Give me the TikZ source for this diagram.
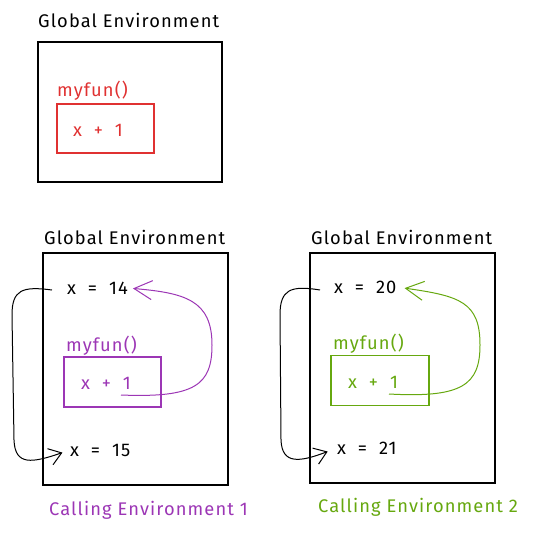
\documentclass[tikz,border=0pt]{standalone}
\usepackage{fontspec}
\setmainfont{Fira Sans}[LetterSpace=6]
\usetikzlibrary{arrows.meta}
\definecolor{exred}{HTML}{E03131}
\definecolor{expurple}{HTML}{9C36B5}
\definecolor{exgreen}{HTML}{66A80F}
\tikzset{
  lbl/.style={font=\fontsize{18.3}{20}\selectfont, inner sep=0pt},
  gbox/.style={draw=black, line width=1.2pt, inner sep=0pt},
  fbox/.style={draw=#1, line width=1.1pt, inner sep=0pt},
  conn/.style={line width=1pt, -{Straight Barb[length=12pt,width=17pt,line width=1pt]}},
  bigconn/.style={line width=1pt, -{Straight Barb[length=18pt,width=19pt,line width=1pt]}},
}
\begin{document}
\begin{tikzpicture}[x=1pt,y=-1pt]
\useasboundingbox (0,0) rectangle (534,532);
% ---------- top panel ----------
\node[lbl, anchor=west] (t0) at (38,20) {Global Environment};
\node[gbox, minimum width=184pt, minimum height=140pt] (g0) at (130,112) {};
\node[lbl, anchor=west, text=exred] (f0) at (57,91) {myfun()};
\node[fbox=exred, minimum width=97pt, minimum height=49pt] (b0) at (105.5,128.5) {};
\node[lbl, anchor=west, text=exred] (e0) at (73,130) {x \ + \ 1};
% ---------- bottom left ----------
\node[lbl, anchor=west] (t1) at (44,237) {Global Environment};
\node[gbox, minimum width=185pt, minimum height=232pt] (g1) at (135.5,369) {};
\node[lbl, anchor=west] (x14) at (67,288) {x \ = \ 14};
\node[lbl, anchor=west, text=expurple] (f1) at (66,346) {myfun()};
\node[fbox=expurple, minimum width=97pt, minimum height=50pt] (b1) at (112.5,382) {};
\node[lbl, anchor=west, text=expurple] (e1) at (81,383) {x \ + \ 1};
\node[lbl, anchor=west] (x15) at (70,450) {x \ = \ 15};
\node[lbl, anchor=west, text=expurple] (c1) at (49,510) {Calling Environment 1};
\coordinate (s1) at (52,290);
\coordinate (p1) at (121,395);
\draw[conn, shorten >=8pt] (s1) .. controls (22,286) and (12,290) .. (12,315)
  -- (14,440) .. controls (15,466) and (32,463) .. (x15.west);
\draw[bigconn, draw=expurple, shorten >=5pt] (p1) .. controls (195,398) and (212,385) .. (212,345)
  .. controls (212,300) and (185,293) .. (x14.east);
% ---------- bottom right ----------
\node[lbl, anchor=west] (t2) at (311,237) {Global Environment};
\node[gbox, minimum width=185pt, minimum height=230pt] (g2) at (402.5,368) {};
\node[lbl, anchor=west] (x20) at (334,287) {x \ = \ 20};
\node[lbl, anchor=west, text=exgreen] (f2) at (333,344) {myfun()};
\node[fbox=exgreen, minimum width=98pt, minimum height=50pt] (b2) at (380,380.5) {};
\node[lbl, anchor=west, text=exgreen] (e2) at (348,382) {x \ + \ 1};
\node[lbl, anchor=west] (x21) at (337,448) {x \ = \ 21};
\node[lbl, anchor=west, text=exgreen] (c2) at (318,507) {Calling Environment 2};
\coordinate (s2) at (320,290);
\coordinate (p2) at (389,394);
\draw[conn, shorten >=10pt] (s2) .. controls (290,285) and (280,290) .. (280,315)
  -- (281,440) .. controls (282,465) and (300,462) .. (x21.west);
\draw[bigconn, draw=exgreen, shorten >=8pt] (p2) .. controls (462,398) and (480,385) .. (480,345)
  .. controls (480,302) and (460,296) .. (x20.east);
\end{tikzpicture}
\end{document}
